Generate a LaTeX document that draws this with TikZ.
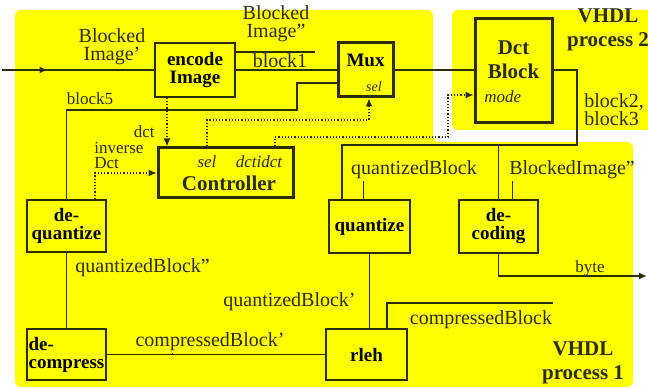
\documentclass[tikz,border=0pt]{standalone}
\usepackage{fontspec}
\setmainfont{Liberation Serif}
\usetikzlibrary{arrows.meta,calc,decorations.markings}
\definecolor{vhdlyellow}{RGB}{255,255,0}
\definecolor{inkline}{RGB}{45,45,10}

\begin{document}
\begin{tikzpicture}[
    x=0.5pt, y=-0.5pt,
    >={Latex[length=4pt,width=3.5pt]},
    region/.style={fill=vhdlyellow, rounded corners=3pt},
    blk/.style={draw=inkline, line width=0.9pt, align=center, font=\fontsize{9.5}{9}\selectfont\bfseries, inner sep=1pt},
    ctlblk/.style={blk, line width=1.5pt},
    wire/.style={draw=inkline, line width=0.75pt},
    ctl/.style={draw=inkline, line width=0.6pt, densely dotted},
    lbl/.style={font=\fontsize{10}{9}\selectfont, inner sep=1pt, align=center, text=inkline},
    small/.style={font=\fontsize{8.5}{7.5}\selectfont, inner sep=1pt, align=left, text=inkline},
    port/.style={font=\fontsize{8.5}{8}\selectfont\itshape, inner sep=1pt, text=inkline},
    title/.style={font=\fontsize{10.5}{12}\selectfont\bfseries, align=center, inner sep=0pt, text=inkline},
    tick/.style={draw=inkline, line width=0.5pt}
]
    \useasboundingbox (0,0) rectangle (648,389);

    % VHDL process regions
    \fill[region] (15,10) -- (433,10) -- (433,142) -- (633,142) -- (633,387) -- (15,387) -- cycle;
    \fill[region] (452,10) -- (656,10) -- (656,130) -- (452,130) -- cycle;
    \node[title] (vhdl2) at (608,30) {VHDL\\process 2};
    \node[title] (vhdl1) at (583,363) {VHDL\\process 1};

    % Blocks
    \node[blk, minimum width=40pt, minimum height=27pt] (enc) at (195,70) {encode\\Image};
    \node[ctlblk, minimum width=27.5pt, minimum height=27pt] (mux) at (365.5,70) {};
    \node[ctlblk, minimum width=38.5pt, minimum height=52pt] (dct) at (513.5,71) {};
    \node[ctlblk, minimum width=67.5pt, minimum height=25pt] (ctrl) at (225.5,173) {};
    \node[blk, minimum width=39.5pt, minimum height=26pt] (deq) at (66.5,226) {de-\\quantize};
    \node[blk, minimum width=40.5pt, minimum height=26.5pt] (quant) at (369.5,226.5) {quantize};
    \node[blk, minimum width=39.5pt, minimum height=26.5pt] (dec) at (498.5,226.5) {de-\\coding};
    \node[blk, minimum width=39.5pt, minimum height=25.5pt, align=left, inner sep=0.5pt] (decomp) at (66.5,354.5) {de-\\compress};
    \node[blk, minimum width=40.5pt, minimum height=25.5pt] (rleh) at (366.5,354.5) {rleh};

    % Block names and ports
    \node[blk, draw=none] (muxname) at (365.5,60) {Mux};
    \node[port, font=\fontsize{7}{7}\selectfont\itshape] (muxsel) at (374,87) {sel};
    \node[title] (dctname) at (513.5,60) {Dct\\Block};
    \node[port, anchor=west] (dctmode) at (482,97) {mode};
    \node[title] (ctrlname) at (229,183) {Controller};
    \node[port] (ctrlsel) at (207,162) {sel};
    \node[port] (ctrlmode) at (259,162) {dctidct};

    % Input and encoder outputs
    \coordinate (in) at (2,70);
    \draw[wire, postaction={decorate}, decoration={markings, mark=at position 0.3 with {\arrow{>}}}] (in) -- (enc.west);
    \node[lbl] (lbi1) at (112,47) {Blocked\\Image'};
    \coordinate (bi2) at (315,52);
    \draw[wire] (enc.east |- bi2) -- (bi2);
    \node[lbl] (lbi2) at (276,24) {Blocked\\Image''};
    \draw[wire] (enc.east) -- (mux.west);
    \node[lbl] (lblk1) at (280,61) {block1};

    % block5 back into the Mux
    \coordinate (b5) at (297,110);
    \draw[wire] (deq.north) |- (b5) |- ([yshift=-6.5pt]mux.west);
    \node[small] (lb5) at (90,99) {block5};

    % Mux to Dct and Dct outputs
    \draw[wire] (mux.east) -- (mux.east -| dct.west);
    \coordinate (sp) at (577,145);
    \coordinate (q1) at (342,145);
    \coordinate (d1) at (498.5,145);
    \draw[wire] (mux.east -| dct.east) -| (sp) -- (q1) -- (q1 |- quant.north);
    \draw[wire] (d1) -- (dec.north);
    \node[lbl, align=left, anchor=west] (lb23) at (582,110) {block2,\\block3};
    \node[lbl] (lqb) at (414,170) {quantizedBlock};
    \node[lbl] (lbi3) at (572,170) {BlockedImage''};
    \draw[tick] ([xshift=-25.5pt]lqb.south) -- ([xshift=-25.5pt]lqb.south |- quant.north);
    \draw[tick] ([xshift=-30pt]lbi3.south) -- ([xshift=-30pt]lbi3.south |- dec.north);

    % Decoding output
    \coordinate (out) at (647,276);
    \draw[wire, ->] (dec.south) |- (out);
    \node[small] (lbyte) at (590,268) {byte};

    % Compression path
    \draw[wire] (quant.south) -- (quant.south |- rleh.north);
    \node[lbl, anchor=east] (lqb1) at (358,302) {quantizedBlock'};
    \coordinate (cb) at (553,303);
    \draw[wire] ([xshift=10.25pt]rleh.north) |- (cb);
    \node[lbl] (lcb) at (481,320) {compressedBlock};
    \draw[wire] (rleh.west) -- (decomp.east);
    \node[lbl] (lcb1) at (210,342) {compressedBlock'};
    \draw[tick] ([xshift=-19pt]lcb1.south) -- ([xshift=-19pt]lcb1.south |- rleh.west);
    \draw[wire] (decomp.north) -- (deq.south);
    \node[lbl, anchor=west] (lqb2) at (73,268) {quantizedBlock''};

    % Controller signals
    \coordinate (s1) at (207,120);
    \coordinate (s2) at (369,120);
    \draw[ctl, ->] (s1 |- ctrl.north) -- (s1) -- (s2) -- (s2 |- mux.south);
    \coordinate (m1) at (275,137);
    \coordinate (m2) at (448,137);
    \draw[ctl, ->] (m1 |- ctrl.north) -- (m1) -- (m2) |- ([yshift=-12pt]dct.west);
    \draw[ctl, ->] ([xshift=-14pt]enc.south) -- ([xshift=-14pt]enc.south |- ctrl.north);
    \node[small, anchor=east] (ldct) at (157,132) {dct};
    \draw[ctl, ->] ([xshift=14.25pt]deq.north) |- (ctrl.west);
    \node[small, anchor=south west] (linv) at (92,171) {inverse\\Dct};

\end{tikzpicture}
\end{document}
